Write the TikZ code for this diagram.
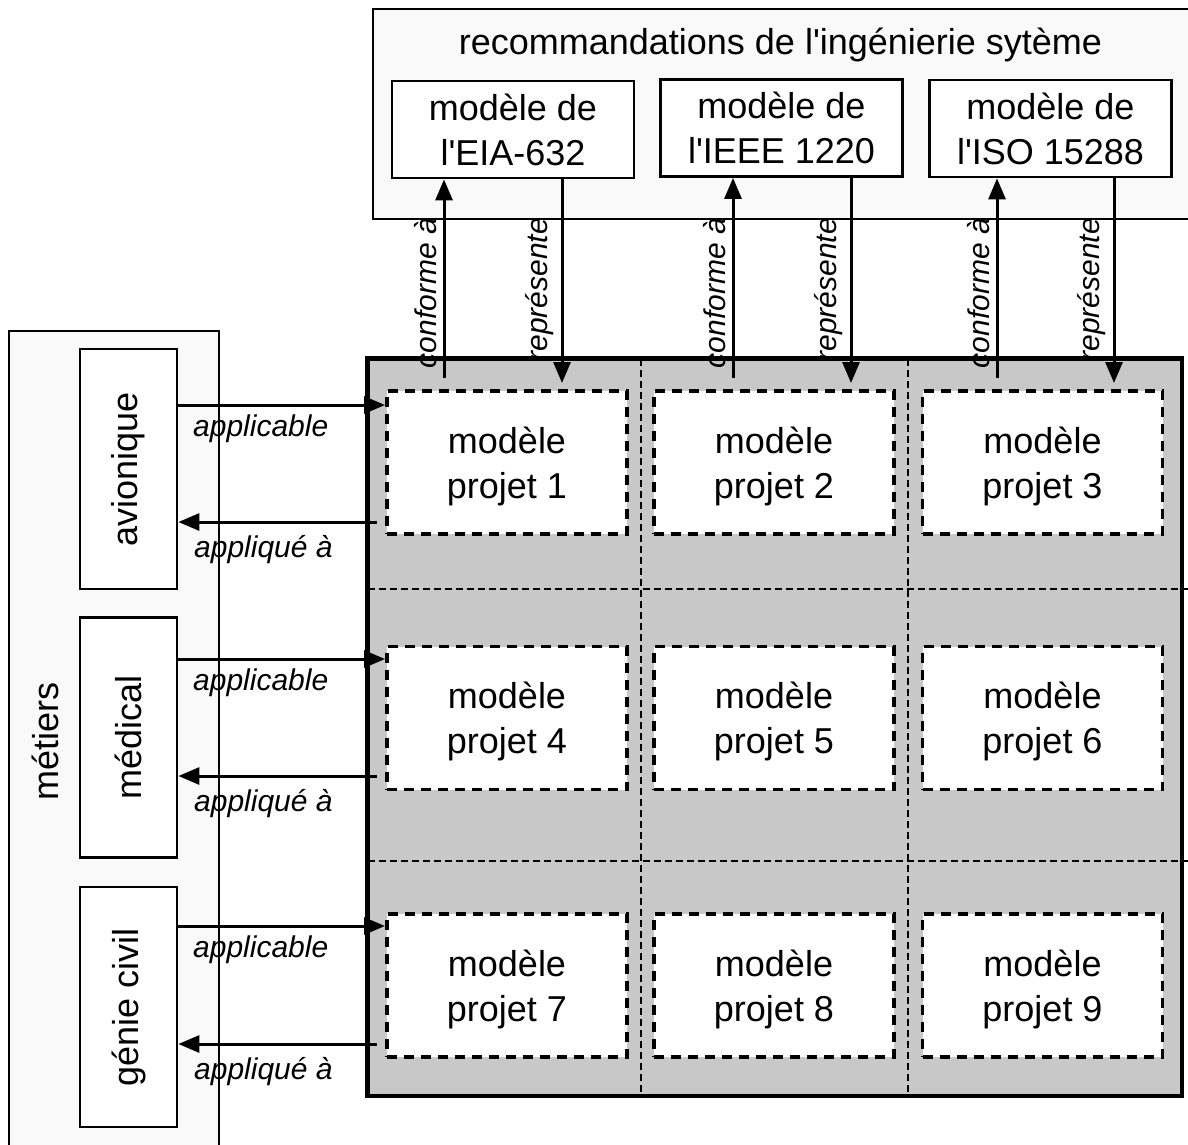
\documentclass[tikz,border=0pt]{standalone}
\usepackage{fontspec}
\setmainfont{Liberation Sans}
\usepackage{graphicx}
\usetikzlibrary{arrows.meta}
\definecolor{grpfill}{HTML}{F9F9F9}
\definecolor{mainfill}{HTML}{C8C8C8}
\newcommand{\myq}{\textquotesingle}
\begin{document}
\begin{tikzpicture}[x=1pt,y=-1pt,
  big/.style={font=\fontsize{36}{45}\selectfont},
  lbl/.style={font=\fontsize{30}{36}\selectfont\itshape, inner sep=0pt},
  stdbox/.style={draw, line width=2.8pt, fill=white, minimum width=242pt, minimum height=97pt, align=center, big, inner sep=0pt, text depth=0pt},
  projbox/.style={draw, dash pattern=on 10pt off 7pt, line width=3.3pt, fill=white, minimum width=240pt, minimum height=143pt, align=center, big, inner sep=0pt, text depth=0pt},
  dombox/.style={draw, line width=2.8pt, fill=white, minimum width=97pt, minimum height=240pt, big, inner sep=0pt},
  arr/.style={line width=3pt, -{Triangle[length=21pt,width=17pt]}},
  gridline/.style={line width=1.4pt, dash pattern=on 7pt off 4pt},
  grp/.style={draw, line width=1.7pt, fill=grpfill}
]
\useasboundingbox (0,0) rectangle (1188,1144);

% group boxes
\node[grp, anchor=north west, minimum width=830pt, minimum height=210pt] (reco) at (372,8) {};
\node[big, anchor=base] (recot) at (780.5,54) {recommandations de l\myq ing\'enierie syt\`eme};
\node[grp, anchor=north west, minimum width=210pt, minimum height=830pt] (met) at (8,330) {};
\node[big, rotate=90] (mett) at (45,741) {m\'etiers};

% standards
\node[stdbox] (e1) at (513,129.5) {mod\`ele de\\l\myq EIA-632};
\node[stdbox] (e2) at (781.5,128) {mod\`ele de\\l\myq IEEE 1220};
\node[stdbox] (e3) at (1050.5,128.5) {mod\`ele de\\l\myq ISO 15288};

% main grid
\node[fill=mainfill, anchor=north west, minimum width=814pt, minimum height=737pt, inner sep=0pt] (main) at (367.5,358.5) {};
\draw[gridline] (641,358.5) -- (641,1095);
\draw[gridline] (908,358.5) -- (908,1095);
\draw[gridline] (367.5,589) -- (1195,589);
\draw[gridline] (367.5,861) -- (1195,861);
\draw[line width=4.2pt] (main.north west) rectangle (main.south east);

% project boxes
\node[projbox] (p1) at (507,462.5) {mod\`ele\\projet 1};
\node[projbox] (p2) at (774,462.5) {mod\`ele\\projet 2};
\node[projbox] (p3) at (1042.5,462.5) {mod\`ele\\projet 3};
\node[projbox] (p4) at (507,718) {mod\`ele\\projet 4};
\node[projbox] (p5) at (774,718) {mod\`ele\\projet 5};
\node[projbox] (p6) at (1042.5,718) {mod\`ele\\projet 6};
\node[projbox] (p7) at (507,985.5) {mod\`ele\\projet 7};
\node[projbox] (p8) at (774,985.5) {mod\`ele\\projet 8};
\node[projbox] (p9) at (1042.5,985.5) {mod\`ele\\projet 9};

% domain boxes
\node[dombox] (d1) at (128.5,469) {\rotatebox{90}{avionique}};
\node[dombox] (d2) at (128.5,737.5) {\rotatebox{90}{m\'edical}};
\node[dombox] (d3) at (128.5,1007) {\rotatebox{90}{g\'enie civil}};

% vertical connectors
\coordinate (c1) at (444,378);
\coordinate (r1) at (562,383);
\coordinate (c2) at (733,378);
\coordinate (r2) at (851,383);
\coordinate (c3) at (997,378);
\coordinate (r3) at (1114,383);
\draw[arr] (c1) -- (c1 |- e1.south);
\draw[arr] (r1 |- e1.south) -- (r1);
\draw[arr] (c2) -- (c2 |- e2.south);
\draw[arr] (r2 |- e2.south) -- (r2);
\draw[arr] (c3) -- (c3 |- e3.south);
\draw[arr] (r3 |- e3.south) -- (r3);
\node[lbl, rotate=90, anchor=base east] (lc1) at (436,218) {conforme \`a};
\node[lbl, rotate=90, anchor=base east] (lr1) at (547,218) {repr\'esente};
\node[lbl, rotate=90, anchor=base east] (lc2) at (725,218) {conforme \`a};
\node[lbl, rotate=90, anchor=base east] (lr2) at (836,218) {repr\'esente};
\node[lbl, rotate=90, anchor=base east] (lc3) at (989,218) {conforme \`a};
\node[lbl, rotate=90, anchor=base east] (lr3) at (1099,218) {repr\'esente};

% horizontal connectors
\coordinate (a1) at (385,405);
\coordinate (q1) at (377,522);
\coordinate (a2) at (385,659);
\coordinate (q2) at (377,776);
\coordinate (a3) at (385,926);
\coordinate (q3) at (377,1044);
\draw[arr] (a1 -| d1.east) -- (a1);
\draw[arr] (q1) -- (q1 -| d1.east);
\draw[arr] (a2 -| d2.east) -- (a2);
\draw[arr] (q2) -- (q2 -| d2.east);
\draw[arr] (a3 -| d3.east) -- (a3);
\draw[arr] (q3) -- (q3 -| d3.east);
\node[lbl, anchor=base west] (la1) at (193,436) {applicable};
\node[lbl, anchor=base west] (lq1) at (194,557) {appliqu\'e \`a};
\node[lbl, anchor=base west] (la2) at (193,690) {applicable};
\node[lbl, anchor=base west] (lq2) at (194,811) {appliqu\'e \`a};
\node[lbl, anchor=base west] (la3) at (193,957) {applicable};
\node[lbl, anchor=base west] (lq3) at (194,1079) {appliqu\'e \`a};
\end{tikzpicture}
\end{document}
